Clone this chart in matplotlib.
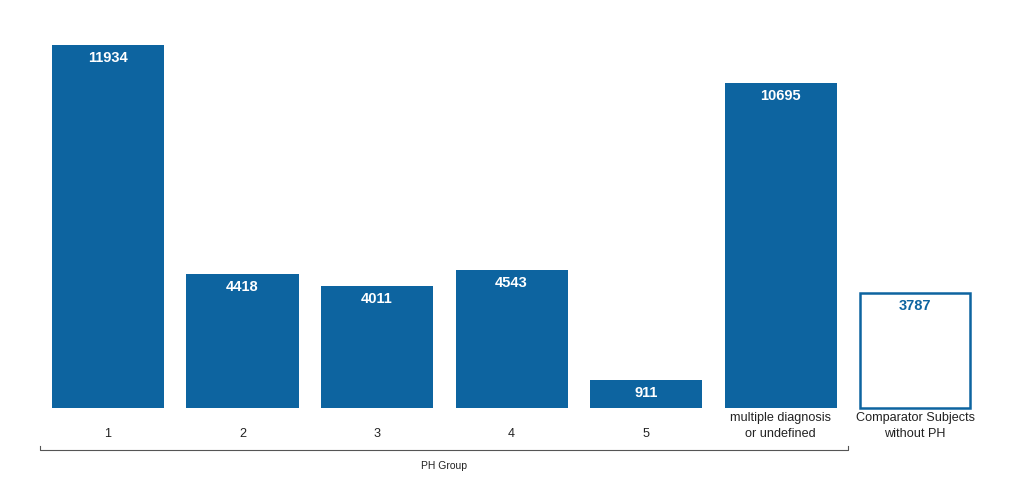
import matplotlib
matplotlib.use("Agg")
import matplotlib.pyplot as plt
from matplotlib.transforms import blended_transform_factory

categories = ["1", "2", "3", "4", "5", "multiple diagnosis\nor undefined",
              "Comparator Subjects\nwithout PH"]
values = [11934, 4418, 4011, 4543, 911, 10695, 3787]
filled = [True, True, True, True, True, True, False]
group_label = "PH Group"

blue = "#0d64a0"
plt.rcParams['font.family'] = ['Liberation Sans', 'DejaVu Sans']

fig = plt.figure(figsize=(10.24, 4.88), dpi=100)
ax = fig.add_axes([0, 80/488, 1, 408/488])
x = list(range(len(categories)))
for xi, v, f in zip(x, values, filled):
    if f:
        ax.bar(xi, v, width=0.833, color=blue, edgecolor=blue, linewidth=0)
        ax.annotate(str(v), (xi, v), xytext=(0, -9.5), textcoords="offset points",
                    ha="center", va="center", color="white", fontsize=10.5, fontweight="bold")
    else:
        bc = ax.bar(xi, v, width=0.82, facecolor="white", edgecolor=blue, linewidth=1.8)
        for p in bc.patches:
            p.set_clip_on(False)
        ax.annotate(str(v), (xi, v), xytext=(0, -9.5), textcoords="offset points",
                    ha="center", va="center", color=blue, fontsize=10.5, fontweight="bold")

ax.set_xlim(-0.803, 6.810)
ax.set_ylim(0, 13412)
ax.axis("off")

tr = blended_transform_factory(ax.transData, ax.transAxes)
for xi, c in zip(x, categories):
    ax.text(xi, -0.071, c, transform=tr, ha="center", va="baseline",
            fontsize=9.1, color="#222222", linespacing=1.45)

ax.plot([-0.506, -0.506, 5.502, 5.502], [-0.092, -0.104, -0.104, -0.092],
        transform=tr, color="#555555", linewidth=0.8, clip_on=False)
ax.text(2.5, -0.143, group_label, transform=tr, ha="center", va="center",
        fontsize=7.5, color="#222222")

fig.savefig("out.png", dpi=100)
